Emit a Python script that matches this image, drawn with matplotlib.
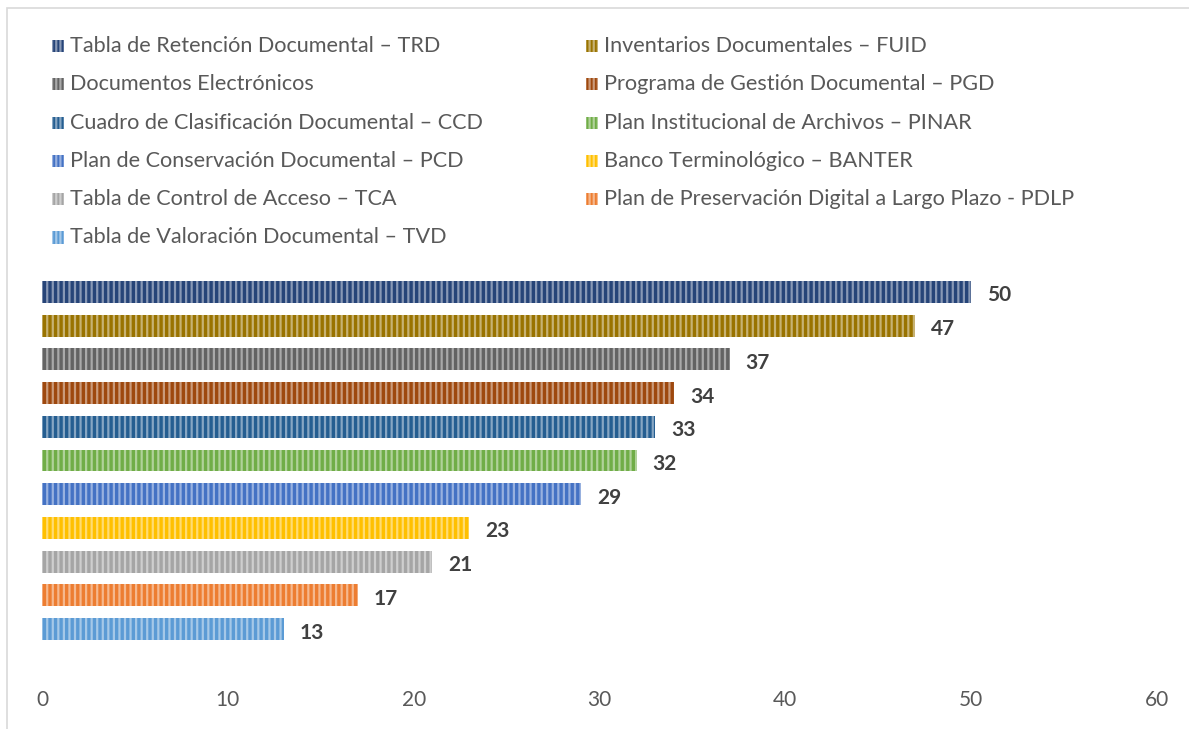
import matplotlib
matplotlib.use("Agg")
import matplotlib.pyplot as plt
from matplotlib.patches import Rectangle
import matplotlib.colors as mcolors
import numpy as np

categories = [
    "Tabla de Retención Documental – TRD",
    "Inventarios Documentales – FUID",
    "Documentos Electrónicos",
    "Programa de Gestión Documental – PGD",
    "Cuadro de Clasificación Documental – CCD",
    "Plan Institucional de Archivos – PINAR",
    "Plan de Conservación Documental – PCD",
    "Banco Terminológico – BANTER",
    "Tabla de Control de Acceso – TCA",
    "Plan de Preservación Digital a Largo Plazo - PDLP",
    "Tabla de Valoración Documental – TVD",
]
values = [50, 47, 37, 34, 33, 32, 29, 23, 21, 17, 13]
colors = ["#264478", "#997300", "#636363", "#9E480E", "#255E91", "#70AD47",
          "#4472C4", "#FFC000", "#A5A5A5", "#ED7D31", "#5B9BD5"]
xticks = [0, 10, 20, 30, 40, 50, 60]

FONT = "Lato"
plt.rcParams['font.family'] = [FONT, 'DejaVu Sans']
plt.rcParams['hatch.linewidth'] = 1.6

def lighten(c, f=0.45):
    r, g, b = mcolors.to_rgb(c)
    return (r + (1 - r) * f, g + (1 - g) * f, b + (1 - b) * f)

W, H = 1189, 729
fig = plt.figure(figsize=(W / 100, H / 100), dpi=100)

# outer chart border (top and left visible)
fig.patches.append(Rectangle((7 / W, -0.1), 1.2, 1 - 8 / H + 0.1, transform=fig.transFigure,
                             fill=False, edgecolor="#D9D9D9", linewidth=1.2))

ax = fig.add_axes([42 / W, 1 - 646 / H, (1157 - 42) / W, (646 - 275) / H])
y = np.arange(len(categories))
for yi, v, c in zip(y, values, colors):
    ax.barh(yi, v, height=0.65, color=c, edgecolor=lighten(c), linewidth=0, hatch="|||")
    ax.annotate(str(v), xy=(v, yi), xytext=(11.5, -2.5), textcoords="offset points",
                va="center", ha="left", fontsize=15, fontweight="bold", color="#404040")

ax.set_xlim(0, 60)
ax.set_ylim(len(categories) - 0.5, -0.5)
ax.set_xticks(xticks)
ax.set_xticklabels([str(t) for t in xticks], fontsize=15, color="#595959")
ax.set_yticks([])
ax.tick_params(axis="x", length=0, pad=32)
for s in ax.spines.values():
    s.set_visible(False)

# legend (row-major, two columns)
col_x = [52, 586]
row_y0, row_dy = 46, 38.3
for i, (cat, c) in enumerate(zip(categories, colors)):
    r, col = divmod(i, 2)
    cx = col_x[col]
    cy = row_y0 + r * row_dy
    sz = 12
    fig.patches.append(Rectangle((cx / W, 1 - (cy + sz / 2) / H), sz / W, sz / H,
                                 transform=fig.transFigure, facecolor=c,
                                 edgecolor=lighten(c), linewidth=0, hatch="||||"))
    fig.text((cx + 18) / W, 1 - cy / H, cat, fontsize=15.6, color="#595959",
             va="center", ha="left")

fig.savefig("out.png", dpi=100, facecolor="white")
